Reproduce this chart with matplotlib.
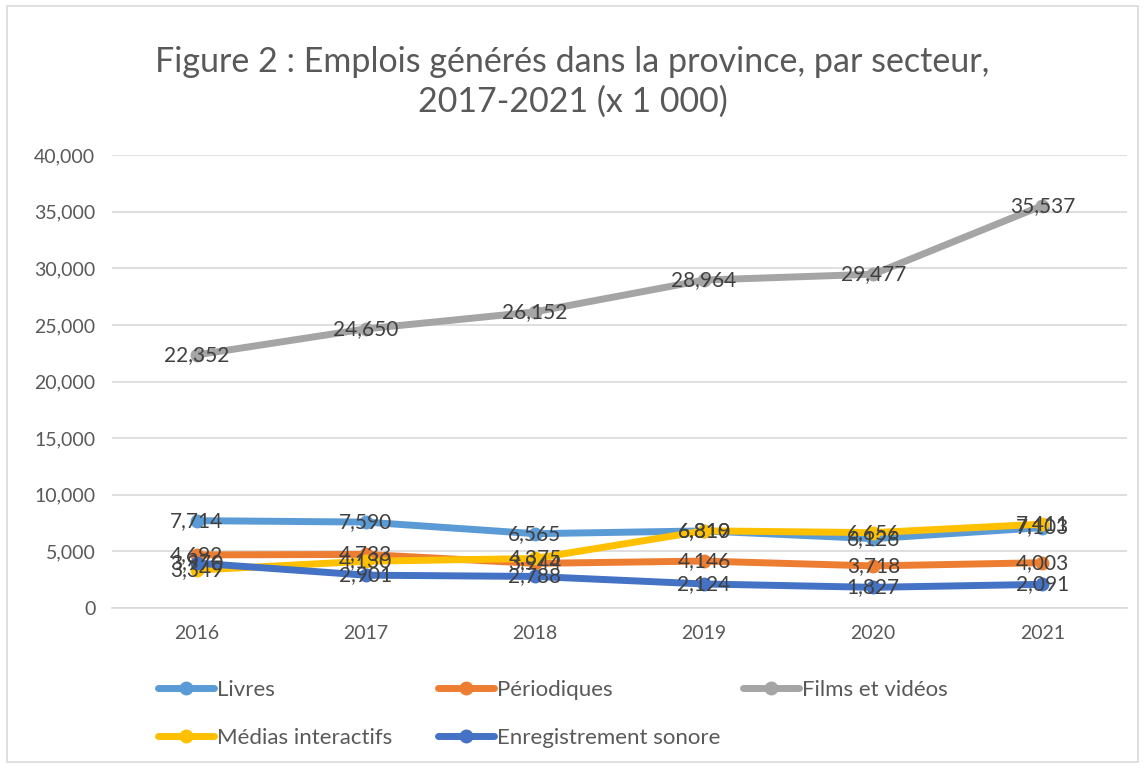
import matplotlib.pyplot as plt
from matplotlib.patches import Rectangle
from matplotlib.ticker import FuncFormatter

years = ["2016", "2017", "2018", "2019", "2020", "2021"]
livres = [7714, 7590, 6565, 6810, 6126, 7103]
periodiques = [4692, 4733, 3944, 4146, 3718, 4003]
films = [22352, 24650, 26152, 28964, 29477, 35537]
medias = [3349, 4130, 4375, 6819, 6656, 7411]
sonore = [3970, 2901, 2788, 2124, 1827, 2091]

series = [
    ("Livres", livres, "#5b9bd5"),
    ("Périodiques", periodiques, "#ed7d31"),
    ("Films et vidéos", films, "#a5a5a5"),
    ("Médias interactifs", medias, "#ffc000"),
    ("Enregistrement sonore", sonore, "#4472c4"),
]

plt.rcParams['font.family'] = ['Lato', 'DejaVu Sans']

fig = plt.figure(figsize=(11.45, 7.68), dpi=100, facecolor="white")
ax = fig.add_axes([0.0978, 0.2083, 0.8865, 0.5898])

x = range(len(years))
handles = {}
for name, vals, col in series:
    h, = ax.plot(x, vals, color=col, lw=5, marker="o", ms=9, solid_capstyle="round", label=name)
    handles[name] = h

# data labels drawn after all lines so they sit on top
for name, vals, col in series:
    for i, v in enumerate(vals):
        ax.text(i, v, f"{v:,}", ha="center", va="center", fontsize=15, color="#404040", zorder=10)

ax.set_xlim(-0.5, 5.5)
ax.set_ylim(0, 40000)
ax.set_yticks(range(0, 40001, 5000))
ax.yaxis.set_major_formatter(FuncFormatter(lambda v, p: f"{int(v):,}"))
ax.set_xticks(list(x))
ax.set_xticklabels(years)
ax.grid(axis="y", color="#d9d9d9", lw=1.2)
ax.set_axisbelow(True)
for s in ["top", "right", "left"]:
    ax.spines[s].set_visible(False)
ax.spines["bottom"].set_color("#d9d9d9")
ax.spines["bottom"].set_linewidth(1.2)
ax.tick_params(length=0, labelsize=14, colors="#595959", pad=12)

fig.text(0.5, 0.893, "Figure 2 : Emplois générés dans la province, par secteur,\n2017-2021 (x 1 000)",
         ha="center", va="center", fontsize=24.5, color="#595959", linespacing=1.3)

# legend entries placed one by one, in Excel's grid
W, H = 1145, 768
spots = {
    "Livres": (158, 690),
    "Périodiques": (438, 690),
    "Films et vidéos": (743, 690),
    "Médias interactifs": (158, 738),
    "Enregistrement sonore": (438, 738),
}
for name, (px, py) in spots.items():
    fig.legend(handles=[handles[name]], labels=[name], loc="center left",
               bbox_to_anchor=(px / W, 1 - py / H), bbox_transform=fig.transFigure,
               frameon=False, fontsize=16, labelcolor="#595959", handlelength=2.5,
               handletextpad=0.15, borderpad=0, borderaxespad=0)

fig.patches.append(Rectangle((0.006, 0.008), 0.988, 0.984, transform=fig.transFigure,
                             fill=False, edgecolor="#d9d9d9", lw=1.2))

fig.savefig("out.png", dpi=100, facecolor="white")
